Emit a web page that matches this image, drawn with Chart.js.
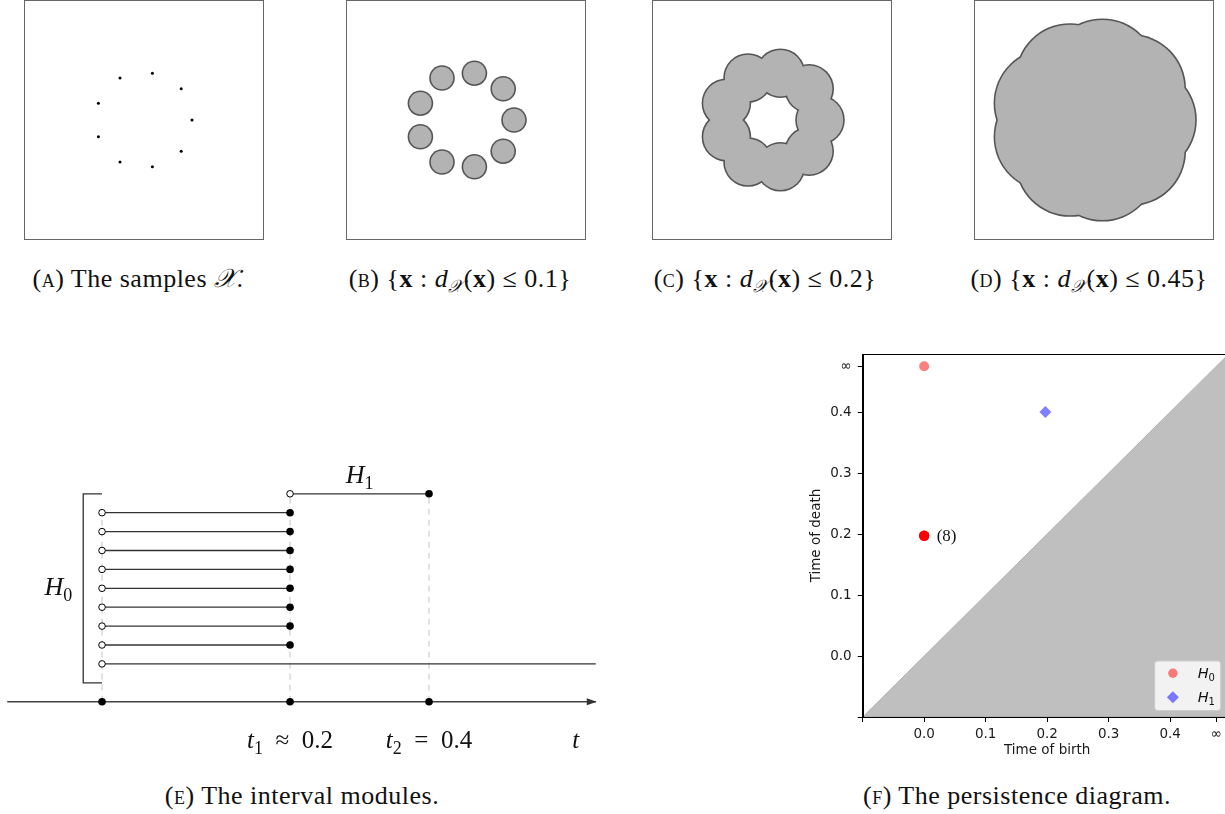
<!DOCTYPE html>
<html>
<head>
<meta charset="utf-8">
<script src="https://cdn.jsdelivr.net/npm/chart.js@4.4.0/dist/chart.umd.min.js"></script>
<style>
  body { margin: 0; width: 1225px; height: 814px; overflow: hidden; background: #fff; position: relative; }
  canvas { position: absolute; }
  .cap { position: absolute; width: 400px; height: 30px; line-height: 30px; text-align: center;
         font-family: "Liberation Serif", serif; font-size: 26px; letter-spacing: 0.5px; color: #111; white-space: nowrap; }
  .sc { font-variant: small-caps; }
  .cap sub { font-size: 0.68em; vertical-align: -0.28em; line-height: 0; }
  .scr { font-style: italic; }
</style>
</head>
<body>
<canvas id="pa" width="240" height="240" style="left:24px;top:0px"></canvas>
<canvas id="pb" width="240" height="240" style="left:346px;top:0px"></canvas>
<canvas id="pc" width="240" height="240" style="left:652px;top:0px"></canvas>
<canvas id="pd" width="240" height="240" style="left:974px;top:0px"></canvas>
<canvas id="pe" width="610" height="320" style="left:0px;top:450px"></canvas>
<canvas id="pf" width="440" height="427" style="left:800px;top:340px"></canvas>

<div class="cap" style="left:-62px;top:264px"><span class="sc">(a)</span> The samples <span class="scr">𝒳</span>.</div>
<div class="cap" style="left:260px;top:264px"><span class="sc">(b)</span> {<b>x</b> : <i>d</i><sub class="scr">𝒳</sub>(<b>x</b>) ≤ 0.1}</div>
<div class="cap" style="left:565px;top:264px"><span class="sc">(c)</span> {<b>x</b> : <i>d</i><sub class="scr">𝒳</sub>(<b>x</b>) ≤ 0.2}</div>
<div class="cap" style="left:889px;top:264px"><span class="sc">(d)</span> {<b>x</b> : <i>d</i><sub class="scr">𝒳</sub>(<b>x</b>) ≤ 0.45}</div>
<div class="cap" style="left:102px;top:781px"><span class="sc">(e)</span> The interval modules.</div>
<div class="cap" style="left:817px;top:781px"><span class="sc">(f)</span> The persistence diagram.</div>

<script>
Chart.defaults.animation = false;
Chart.defaults.events = [];
Chart.defaults.layout.autoPadding = false;

// ---- samples on the circle (panels A-D) ----
const sampleX = [0.40, 0.31, 0.07, -0.20, -0.38, -0.38, -0.20, 0.07, 0.31];
const sampleY = [0.00, 0.26, 0.39, 0.35, 0.14, -0.14, -0.35, -0.39, -0.26];
const ballRadii = [0.1, 0.2, 0.45];

// ---- panel E: interval modules (schematic t axis) ----
const t1 = 0.23;
const t2 = 0.4;
const h0Births = [0, 0, 0, 0, 0, 0, 0, 0, 0];
const h0Deaths = [t1, t1, t1, t1, t1, t1, t1, t1, Infinity];
const h1Births = [t1];
const h1Deaths = [t2];
const tEvents = [0, t1, t2];
const tEventLabels = [null,
  [['t', 'i'], ['1', 's'], ['\u2002≈\u20020.2', 'r']],
  [['t', 'i'], ['2', 's'], ['\u2002=\u20020.4', 'r']]];
const tAxisStart = -0.116;
const tAxisEnd = 0.604;

// ---- panel F: persistence diagram ----
const infValue = 0.475;
const pdH0Birth = [0, 0, 0, 0, 0, 0, 0, 0, 0];
const pdH0Death = [infValue, 0.197, 0.197, 0.197, 0.197, 0.197, 0.197, 0.197, 0.197];
const pdH1Birth = [0.197];
const pdH1Death = [0.4];
const pdTicks = [-0.1, 0.0, 0.1, 0.2, 0.3, 0.4, infValue];
const pdTickLabels = ['', '0.0', '0.1', '0.2', '0.3', '0.4', '∞'];
const pdLegend = [['H', '0'], ['H', '1']];

// text with italic / subscript pieces
function drawMath(ctx, parts, x, y, align, size, family) {
  family = family || '"Liberation Serif", serif';
  const fonts = {
    i: 'italic ' + size + 'px ' + family,
    r: size + 'px ' + family,
    s: Math.round(size * 0.7) + 'px ' + family
  };
  let total = 0;
  const widths = parts.map(([t, st]) => {
    ctx.font = fonts[st];
    const w = ctx.measureText(t).width;
    total += w;
    return w;
  });
  let cx = align === 'center' ? x - total / 2 : (align === 'right' ? x - total : x);
  ctx.textAlign = 'left';
  ctx.textBaseline = 'alphabetic';
  parts.forEach(([t, st], i) => {
    ctx.font = fonts[st];
    ctx.fillText(t, cx, st === 's' ? y + size * 0.23 : y);
    cx += widths[i];
  });
}

const boxFrame = {
  id: 'boxFrame',
  afterDraw(chart) {
    const ctx = chart.ctx;
    ctx.save();
    ctx.strokeStyle = '#666';
    ctx.lineWidth = 1;
    ctx.strokeRect(0.5, 0.5, chart.width - 1, chart.height - 1);
    ctx.restore();
  }
};

const samplePts = sampleX.map((x, i) => ({x: x, y: sampleY[i]}));
const squareScales = {
  x: {type: 'linear', min: -1, max: 1, display: false},
  y: {type: 'linear', min: -1, max: 1, display: false}
};

function pxRadius(r, extra) {
  return ctx => {
    const s = ctx.chart.scales.x;
    return Math.abs(s.getPixelForValue(r) - s.getPixelForValue(0)) + extra;
  };
}

new Chart(document.getElementById('pa'), {
  type: 'scatter',
  data: {datasets: [{data: samplePts, pointRadius: 1.5, pointBackgroundColor: '#000', pointBorderWidth: 0}]},
  options: {responsive: false, layout: {padding: 0}, scales: squareScales,
    plugins: {legend: {display: false}, tooltip: {enabled: false}}},
  plugins: [boxFrame]
});

['pb', 'pc', 'pd'].forEach((id, k) => {
  const r = ballRadii[k];
  new Chart(document.getElementById(id), {
    type: 'scatter',
    data: {
      datasets: [
        // fill on top, outline ring underneath -> outline of the union
        {data: samplePts, pointRadius: pxRadius(r, -0.8), pointBackgroundColor: '#b3b3b3', pointBorderWidth: 0},
        {data: samplePts, pointRadius: pxRadius(r, 0.8), pointBackgroundColor: '#555', pointBorderWidth: 0}
      ]
    },
    options: {responsive: false, layout: {padding: 0}, scales: squareScales,
      plugins: {legend: {display: false}, tooltip: {enabled: false}}},
    plugins: [boxFrame]
  });
});

// ---------- panel E ----------
const eData = [];
h0Births.forEach((b, i) => {
  const d = h0Deaths[i];
  const inf = !isFinite(d);
  const row = 10 - i;
  eData.push({
    type: 'line',
    data: [{x: b, y: row}, {x: inf ? tAxisEnd : d, y: row}],
    borderColor: '#333', borderWidth: 1.3,
    pointRadius: [3.3, inf ? 0 : 3.8],
    pointBackgroundColor: ['#fff', '#000'], pointBorderColor: '#000', pointBorderWidth: [1, 0]
  });
});
h1Births.forEach((b, i) => {
  eData.push({
    type: 'line',
    data: [{x: b, y: 11}, {x: h1Deaths[i], y: 11}],
    borderColor: '#333', borderWidth: 1.3,
    pointRadius: [3.3, 3.8],
    pointBackgroundColor: ['#fff', '#000'], pointBorderColor: '#000', pointBorderWidth: [1, 0]
  });
});
eData.push({
  data: tEvents.map(t => ({x: t, y: 0})),
  pointRadius: 3.8, pointBackgroundColor: '#000', pointBorderWidth: 0
});
eData.push({
  type: 'line',
  data: [{x: tAxisStart, y: 0}, {x: tAxisEnd, y: 0}],
  borderColor: '#444', borderWidth: 1.4, pointRadius: 0
});
const bracketX = -0.023;
eData.push({
  type: 'line',
  data: [{x: 0, y: 11}, {x: bracketX, y: 11}, {x: bracketX, y: 1}, {x: 0, y: 1}],
  borderColor: '#333', borderWidth: 1.3, pointRadius: 0
});
tEvents.forEach((t, i) => {
  eData.push({
    type: 'line',
    data: [{x: t, y: 0}, {x: t, y: i === 0 ? 10 : 11}],
    borderColor: '#c4c4c4', borderWidth: 1, borderDash: [6, 5], pointRadius: 0
  });
});

const eDecor = {
  id: 'eDecor',
  afterDatasetsDraw(chart) {
    const {ctx, scales: {x, y}} = chart;
    ctx.save();
    // arrow head
    const ax = x.getPixelForValue(tAxisEnd), ay = y.getPixelForValue(0);
    ctx.fillStyle = '#333';
    ctx.beginPath();
    ctx.moveTo(ax + 1, ay);
    ctx.lineTo(ax - 9, ay - 3.5);
    ctx.lineTo(ax - 9, ay + 3.5);
    ctx.closePath();
    ctx.fill();
    ctx.fillStyle = '#111';
    drawMath(ctx, [['H', 'i'], ['1', 's']],
      x.getPixelForValue((h1Births[0] + h1Deaths[0]) / 2), y.getPixelForValue(11) - 10.5, 'center', 26);
    drawMath(ctx, [['H', 'i'], ['0', 's']],
      x.getPixelForValue(bracketX) - 11, y.getPixelForValue(6) + 7, 'right', 26);
    tEvents.forEach((t, i) => {
      if (tEventLabels[i]) drawMath(ctx, tEventLabels[i], x.getPixelForValue(t), ay + 46.5, 'center', 25);
    });
    drawMath(ctx, [['t', 'i']], x.getPixelForValue(tAxisEnd) - 20, ay + 46.5, 'center', 25);
    ctx.restore();
  }
};

new Chart(document.getElementById('pe'), {
  type: 'scatter',
  data: {datasets: eData},
  options: {
    responsive: false, layout: {padding: 0},
    scales: {
      x: {type: 'linear', min: -0.1248, max: 0.6214, display: false},
      y: {type: 'linear', min: -3.614, max: 13.317, display: false}
    },
    plugins: {legend: {display: false}, tooltip: {enabled: false}}
  },
  plugins: [eDecor]
});

// ---------- panel F ----------
const tickFont = {family: '"DejaVu Sans", sans-serif', size: 13.5};
const fDecor = {
  id: 'fDecor',
  afterDraw(chart) {
    const {ctx, chartArea: a, scales: {x, y}} = chart;
    ctx.save();
    ctx.strokeStyle = '#000';
    ctx.lineWidth = 1;
    ctx.strokeRect(Math.round(a.left) + 0.5, Math.round(a.top) + 0.5, a.right - a.left, a.bottom - a.top);
    // multiplicity label
    ctx.fillStyle = '#111';
    ctx.font = '17px "Liberation Serif", serif';
    ctx.textAlign = 'left';
    ctx.textBaseline = 'middle';
    ctx.fillText('(8)', x.getPixelForValue(pdH0Birth[1]) + 12.5, y.getPixelForValue(pdH0Death[1]) + 1);
    // legend
    const bw = 66, bh = 49.5;
    const bx = a.right - 11.5 - bw, by = a.bottom - 7 - bh;
    ctx.beginPath();
    ctx.roundRect(bx + 0.5, by + 0.5, bw, bh, 3);
    ctx.fillStyle = 'rgba(255,255,255,0.8)';
    ctx.fill();
    ctx.strokeStyle = '#cccccc';
    ctx.stroke();
    const mx = bx + 18.7;
    const rows = [by + 12.7, by + 36.7];
    ctx.fillStyle = 'rgba(255,0,0,0.5)';
    ctx.beginPath();
    ctx.arc(mx, rows[0], 4.7, 0, Math.PI * 2);
    ctx.fill();
    ctx.fillStyle = 'rgba(0,0,255,0.5)';
    ctx.beginPath();
    ctx.moveTo(mx - 6, rows[1]);
    ctx.lineTo(mx, rows[1] - 6);
    ctx.lineTo(mx + 6, rows[1]);
    ctx.lineTo(mx, rows[1] + 6);
    ctx.closePath();
    ctx.fill();
    ctx.fillStyle = '#111';
    pdLegend.forEach((lab, i) => {
      drawMath(ctx, [[lab[0], 'i'], [lab[1], 's']], bx + 43.5, rows[i] + 4.8, 'left', 14.5, '"DejaVu Sans", sans-serif');
    });
    ctx.restore();
  }
};

new Chart(document.getElementById('pf'), {
  type: 'scatter',
  data: {
    datasets: [
      {label: 'H0', data: pdH0Birth.map((b, i) => ({x: b, y: pdH0Death[i]})),
       pointRadius: 5, pointBackgroundColor: 'rgba(255,0,0,0.5)', pointBorderWidth: 0},
      {label: 'H1', data: pdH1Birth.map((b, i) => ({x: b, y: pdH1Death[i]})),
       pointStyle: 'rectRot', pointRadius: 6, pointBackgroundColor: 'rgba(0,0,255,0.5)', pointBorderWidth: 0},
      {type: 'line', data: [{x: -0.1, y: -0.1}, {x: 0.5, y: 0.5}], fill: 'start',
       backgroundColor: '#bfbfbf', borderColor: '#b3b3b3', borderWidth: 1, pointRadius: 0}
    ]
  },
  options: {
    responsive: false,
    layout: {padding: {top: 12.7, right: 8.3, left: 0, bottom: 0}},
    scales: {
      x: {
        type: 'linear', min: -0.1, max: 0.5,
        afterBuildTicks: s => { s.ticks = pdTicks.map(v => ({value: v})); },
        afterFit: s => { s.height = 50; },
        ticks: {callback: (v, i) => pdTickLabels[i], autoSkip: false, maxRotation: 0, font: tickFont, color: '#1a1a1a', padding: 4},
        grid: {drawOnChartArea: false, tickLength: 5, tickColor: '#000'},
        border: {color: '#000', width: 1},
        title: {display: true, text: 'Time of birth', font: tickFont, color: '#1a1a1a', padding: {top: 0, bottom: 8.2}}
      },
      y: {
        type: 'linear', min: -0.1, max: 0.495,
        afterBuildTicks: s => { s.ticks = pdTicks.map(v => ({value: v})); },
        afterFit: s => { s.width = 62.7; },
        ticks: {callback: (v, i) => pdTickLabels[i], autoSkip: false, font: tickFont, color: '#1a1a1a', padding: 6},
        grid: {drawOnChartArea: false, tickLength: 5, tickColor: '#000'},
        border: {color: '#000', width: 1},
        title: {display: true, text: 'Time of death', font: tickFont, color: '#1a1a1a', padding: {top: 8.6, bottom: 0}}
      }
    },
    plugins: {legend: {display: false}, tooltip: {enabled: false}}
  },
  plugins: [fDecor]
});
</script>
</body>
</html>
